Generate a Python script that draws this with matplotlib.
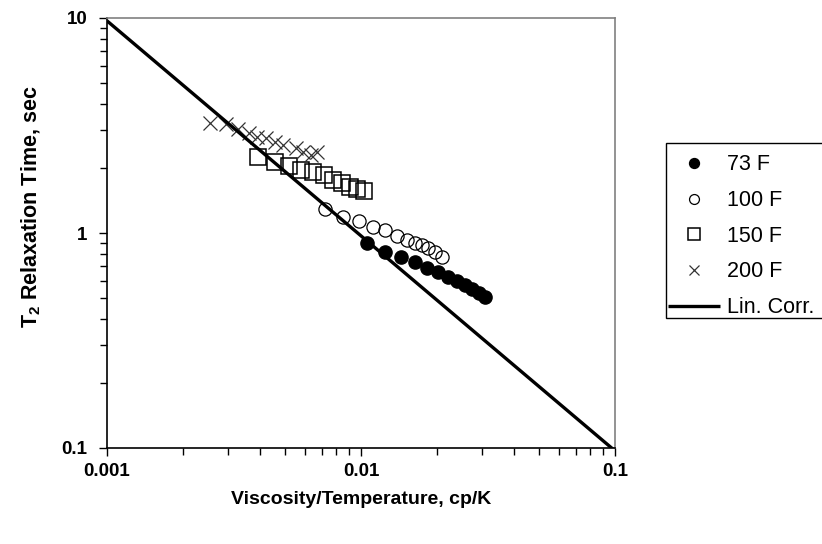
import matplotlib
matplotlib.use("Agg")
import matplotlib.pyplot as plt
import numpy as np
from matplotlib.patches import Rectangle
from matplotlib.ticker import LogLocator, FixedLocator, FixedFormatter, NullFormatter

plt.rcParams['font.family'] = ['Liberation Sans', 'DejaVu Sans']

# 73 F (filled circles)
x73 = [0.01057, 0.0124, 0.01437, 0.01632, 0.0182, 0.0201, 0.0220, 0.0239, 0.0257, 0.0274, 0.0292, 0.0308]
y73 = [0.898, 0.817, 0.773, 0.733, 0.688, 0.659, 0.624, 0.598, 0.573, 0.549, 0.526, 0.504]
# 100 F (open circles)
x100 = [0.00721, 0.00849, 0.00982, 0.01115, 0.0124, 0.01387, 0.01519, 0.01632, 0.01738, 0.01836, 0.01954, 0.0208]
y100 = [1.294, 1.187, 1.138, 1.065, 1.033, 0.969, 0.927, 0.898, 0.880, 0.852, 0.817, 0.773]
# 150 F (squares)
x150 = [0.00393, 0.00459, 0.00521, 0.00580, 0.00647, 0.00715, 0.00776, 0.00841, 0.00905, 0.00964, 0.01028]
y150 = [2.257, 2.14, 2.05, 1.963, 1.922, 1.862, 1.766, 1.709, 1.637, 1.602, 1.567]
# 200 F (crosses)
x200 = [0.00255, 0.00294, 0.00328, 0.00362, 0.00390, 0.00423, 0.00459, 0.00493, 0.00555, 0.00591, 0.00636, 0.00671]
y200 = [3.25, 3.21, 3.05, 2.92, 2.80, 2.77, 2.65, 2.57, 2.49, 2.38, 2.31, 2.38]
# Linear correlation T2 = a / (visc/T)
corr_coef = 0.0097
corr_x = [0.001, 0.1]

xticks = [0.001, 0.01, 0.1]
xtick_labels = ['0.001', '0.01', '0.1']
yticks = [0.1, 1, 10]
ytick_labels = ['0.1', '1', '10']

W, H = 822, 544
fig = plt.figure(figsize=(W/100, H/100), dpi=100)
ax = fig.add_axes([107/W, 1-448/H, (615-107)/W, (448-18)/H])

ax.plot(x73, y73, linestyle='none', marker='o', ms=9.5, mfc='black', mec='black', label='73 F', zorder=3)
ax.plot(x100, y100, linestyle='none', marker='o', ms=9.5, mfc='none', mec='black', mew=0.9, label='100 F', zorder=3)
ax.plot(x150, y150, linestyle='none', marker='s', ms=11, mfc='none', mec='black', mew=1.1, label='150 F', zorder=3)
ax.plot(x200, y200, linestyle='none', marker='x', ms=10, mec='#333333', mew=0.9, label='200 F', zorder=3)
cx = np.array(corr_x)
ax.plot(cx, corr_coef / cx, color='black', lw=2.4, label='Lin. Corr.', zorder=4, solid_capstyle='butt')

ax.set_xscale('log')
ax.set_yscale('log')
ax.set_xlim(0.001, 0.1)
ax.set_ylim(0.1, 10)

ax.xaxis.set_major_locator(FixedLocator(xticks))
ax.xaxis.set_major_formatter(FixedFormatter(xtick_labels))
ax.yaxis.set_major_locator(FixedLocator(yticks))
ax.yaxis.set_major_formatter(FixedFormatter(ytick_labels))
ax.xaxis.set_minor_locator(LogLocator(base=10, subs=np.arange(2, 10)))
ax.yaxis.set_minor_locator(LogLocator(base=10, subs=np.arange(2, 10)))
ax.xaxis.set_minor_formatter(NullFormatter())
ax.yaxis.set_minor_formatter(NullFormatter())

ax.tick_params(which='major', direction='out', length=6, width=1, labelsize=13.5)
ax.tick_params(axis='x', which='major', pad=5)
ax.tick_params(axis='y', which='major', pad=8)
ax.tick_params(which='minor', direction='out', length=5, width=1)
for lab in ax.get_xticklabels() + ax.get_yticklabels():
    lab.set_fontweight('bold')

for s in ['left', 'bottom']:
    ax.spines[s].set_color('black')
    ax.spines[s].set_linewidth(1.2)
for s in ['top', 'right']:
    ax.spines[s].set_color('#808080')
    ax.spines[s].set_linewidth(1.2)

ax.set_xlabel('Viscosity/Temperature, cp/K', fontsize=14, fontweight='bold')
ax.set_ylabel('T$_\\mathregular{2}$ Relaxation Time, sec', fontsize=15.5, fontweight='bold')
ax.xaxis.set_label_coords(0.5, -0.1)
ax.yaxis.set_label_coords(-0.126, 0.56)

# legend frame (extends past the right edge of the figure, as in the reference)
fig.patches.append(Rectangle((666/W, 1-318/H), 170/W, (318-143)/H, transform=fig.transFigure,
                             facecolor='white', edgecolor='black', lw=1.0, zorder=1))
leg = fig.legend(loc='upper left', bbox_to_anchor=(668/W, 1-154.5/H), frameon=False,
                 fontsize=15.5, handlelength=2.42, handletextpad=0.33, borderpad=0.0,
                 labelspacing=0.68, borderaxespad=0, markerscale=0.75, numpoints=1)
leg.set_zorder(5)

fig.savefig('out.png', dpi=100)
